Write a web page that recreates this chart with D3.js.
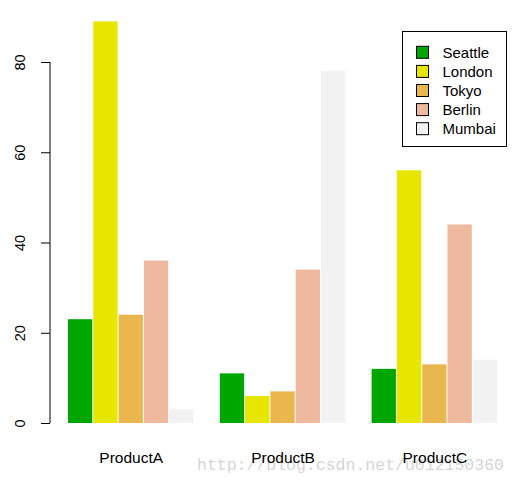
<!DOCTYPE html>
<html><head><meta charset="utf-8">
<script src="https://cdn.jsdelivr.net/npm/d3@7/dist/d3.min.js"></script>
<style>body{margin:0;background:#fff}svg{display:block}</style>
</head><body>
<svg id="c" width="520" height="485"></svg>
<script>
const products = ["ProductA", "ProductB", "ProductC"];
const cities = ["Seattle", "London", "Tokyo", "Berlin", "Mumbai"];
const colors = ["#00A600", "#E6E600", "#EAB64E", "#EEB99F", "#F2F2F2"];
const seattle = [23, 11, 12];
const london = [89, 6, 56];
const tokyo = [24, 7, 13];
const berlin = [36, 34, 44];
const mumbai = [3, 78, 14];
const yTicks = [0, 20, 40, 60, 80];
const series = [seattle, london, tokyo, berlin, mumbai];

const svg = d3.select("#c");
const font = "Liberation Sans, Arial, sans-serif";

// bar units: R barplot layout, first bar left edge at unit 1, groups of 5 with 1 unit gap
const unit = 25.3;
const x = d3.scaleLinear().domain([1, 18]).range([68, 68 + 17 * unit]);
const y = d3.scaleLinear().domain([0, 80]).range([423, 62]);

const bars = [];
products.forEach((p, i) => {
  series.forEach((s, j) => {
    bars.push({p, i, j, v: s[i], left: 1 + i * 6 + j});
  });
});

// watermark (drawn beneath labels)
svg.append("text").attr("x", 197).attr("y", 470)
  .attr("font-family", "Liberation Mono, monospace").attr("font-size", 16.5)
  .attr("fill", "#d6d6d6")
  .text("http://blog.csdn.net/u012150360");

svg.append("g").selectAll("rect").data(bars).enter().append("rect")
  .attr("x", d => x(d.left))
  .attr("width", d => x(d.left + 1) - x(d.left) - 1)
  .attr("y", d => y(d.v))
  .attr("height", d => y(0) - y(d.v))
  .attr("fill", d => colors[d.j]);

// y axis
const ax = svg.append("g").attr("transform", "translate(50,0)")
  .call(d3.axisLeft(y).tickValues(yTicks).tickSize(9).tickPadding(0).tickFormat(d3.format("d")));
ax.select(".domain").attr("d", `M0,${y(0)}V${y(80)}`).attr("stroke", "#000");
ax.selectAll(".tick line").attr("stroke", "#000");
ax.selectAll(".tick text")
  .attr("font-family", font).attr("font-size", 14.5).attr("fill", "#000")
  .attr("text-anchor", "middle")
  .attr("x", null).attr("dy", null)
  .attr("transform", "translate(-25,0) rotate(-90)")
  .attr("y", 0);

// category labels
svg.append("g").selectAll("text").data(products).enter().append("text")
  .attr("x", (d, i) => x(1 + i * 6 + 2.5))
  .attr("y", 462.5)
  .attr("text-anchor", "middle")
  .attr("font-family", font).attr("font-size", 15.5).attr("fill", "#000")
  .text(d => d);

// legend
const lg = svg.append("g");
lg.append("rect").attr("x", 402.5).attr("y", 31.5).attr("width", 104).attr("height", 115)
  .attr("fill", "none").attr("stroke", "#000");
cities.forEach((c, k) => {
  const cy = 52.3 + k * 19.1;
  lg.append("rect").attr("x", 416.5).attr("y", cy - 6).attr("width", 12).attr("height", 12)
    .attr("fill", colors[k]).attr("stroke", "#000");
  lg.append("text").attr("x", 442.5).attr("y", cy + 5.5)
    .attr("font-family", font).attr("font-size", 15).attr("fill", "#000").text(c);
});
</script>
</body></html>
